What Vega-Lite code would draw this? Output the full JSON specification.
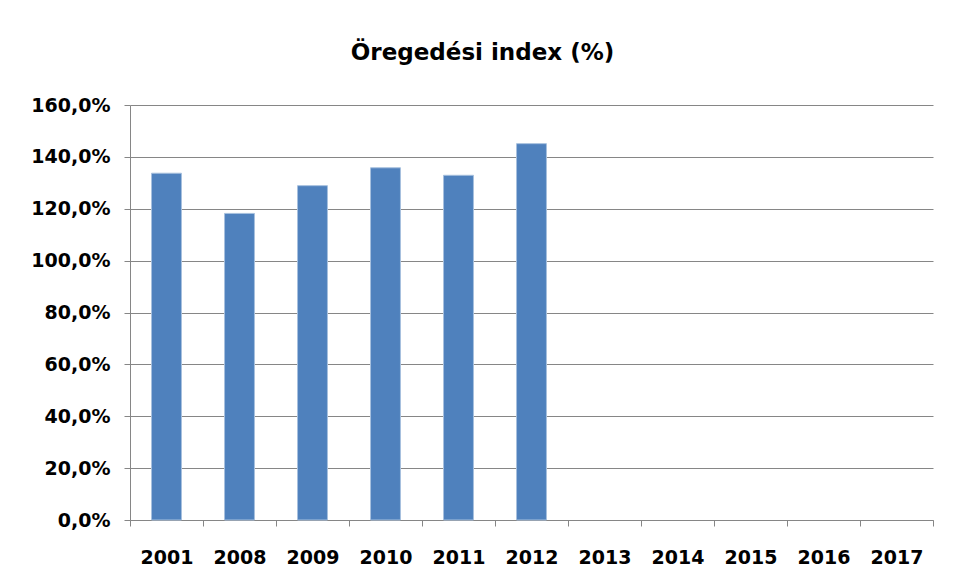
{
  "$schema": "https://vega.github.io/schema/vega-lite/v6.json",
  "width": 803,
  "height": 415,
  "autosize": {"type": "none"},
  "padding": {"left": 130, "top": 105, "right": 21, "bottom": 61},
  "background": "white",
  "title": {
    "text": "Öregedési index (%)",
    "font": "DejaVu Sans",
    "fontWeight": "bold",
    "fontSize": 23,
    "color": "#000000",
    "anchor": "middle",
    "dx": -49,
    "offset": 31
  },
  "data": {
    "values": [
      {"year": "2001", "value": 133.7},
      {"year": "2008", "value": 118.2},
      {"year": "2009", "value": 128.9},
      {"year": "2010", "value": 135.8},
      {"year": "2011", "value": 132.9},
      {"year": "2012", "value": 145.1}
    ]
  },
  "mark": {"type": "bar", "color": "#4F81BD", "stroke": "#A7C0DE", "strokeWidth": 1, "width": {"band": 0.41}},
  "encoding": {
    "x": {
      "field": "year",
      "type": "ordinal",
      "sort": null,
      "scale": {
        "domain": ["2001", "2008", "2009", "2010", "2011", "2012", "2013", "2014", "2015", "2016", "2017"],
        "paddingInner": 0,
        "paddingOuter": 0
      },
      "axis": {
        "title": null,
        "labelAngle": 0,
        "tickBand": "extent",
        "tickSize": 6,
        "tickColor": "#868686",
        "domainColor": "#868686",
        "labelFont": "DejaVu Sans",
        "labelFontWeight": "bold",
        "labelFontSize": 19,
        "labelColor": "#000000",
        "labelPadding": 22,
        "grid": false
      }
    },
    "y": {
      "field": "value",
      "type": "quantitative",
      "scale": {"domain": [0, 160]},
      "axis": {
        "title": null,
        "values": [0, 20, 40, 60, 80, 100, 120, 140, 160],
        "labelExpr": "replace(format(datum.value, '.1f'), '.', ',') + '%'",
        "tickSize": 6,
        "tickColor": "#868686",
        "domainColor": "#868686",
        "gridColor": "#868686",
        "grid": true,
        "labelFont": "DejaVu Sans",
        "labelFontWeight": "bold",
        "labelFontSize": 19,
        "labelColor": "#000000",
        "labelPadding": 14
      }
    }
  },
  "config": {"view": {"stroke": null}}
}
